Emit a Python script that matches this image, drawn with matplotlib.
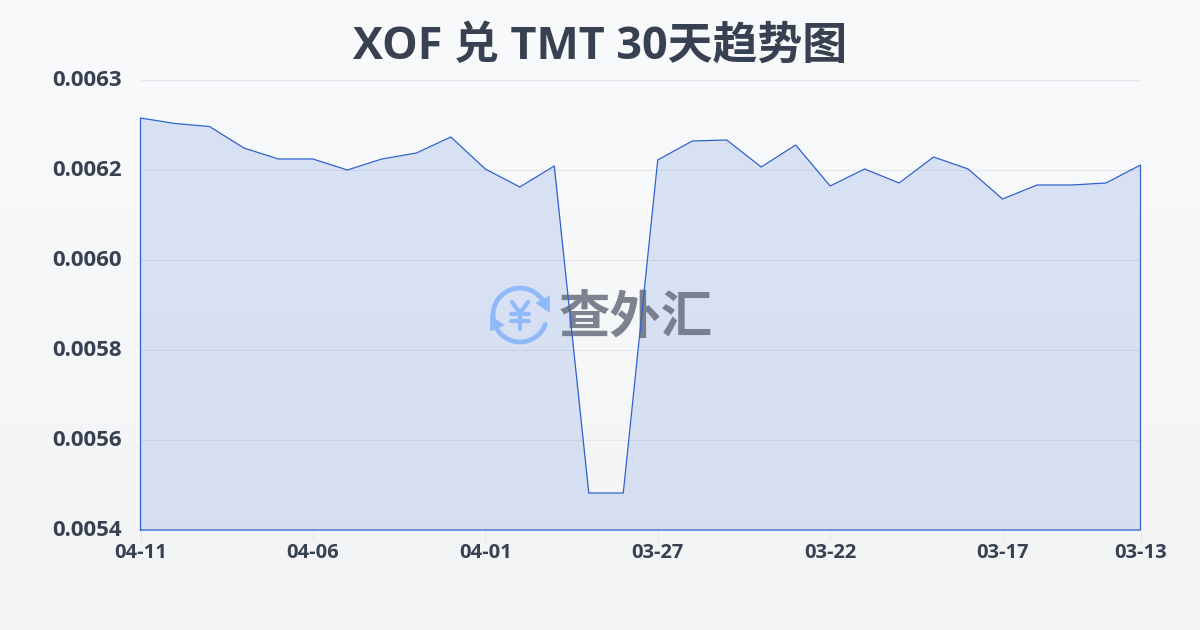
import numpy as np
import matplotlib
matplotlib.use("Agg")
import matplotlib.pyplot as plt
from matplotlib.patches import Arc, Polygon
from matplotlib.lines import Line2D
from matplotlib.transforms import Affine2D
from matplotlib.colors import LinearSegmentedColormap

plt.rcParams['font.family'] = ['Open Sans', 'Noto Sans CJK SC', 'DejaVu Sans']

title = "XOF 兑 TMT 30天趋势图"
rates = [0.006224, 0.006213, 0.006207, 0.006164, 0.006142, 0.006142, 0.006120,
         0.006142, 0.006154, 0.006186, 0.006122, 0.006086, 0.006128, 0.005474,
         0.005474, 0.006140, 0.006178, 0.006180, 0.006126, 0.006170, 0.006088,
         0.006122, 0.006094, 0.006146, 0.006122, 0.006062, 0.006090, 0.006090,
         0.006094, 0.006130]
date_labels = ["04-11", "04-06", "04-01", "03-27", "03-22", "03-17", "03-13"]
date_positions = [0, 5, 10, 15, 20, 25, 29]
y_ticks = [0.00540, 0.00558, 0.00576, 0.00594, 0.00612, 0.00630]
y_labels = ["0.0054", "0.0056", "0.0058", "0.0060", "0.0062", "0.0063"]

TXT = "#374151"
LINE = "#2f62cc"
LOGO = "#90b9f9"

fig = plt.figure(figsize=(12, 6.3), dpi=100)
bg = fig.add_axes([0, 0, 1, 1], zorder=0)
bg.axis("off")
cmap = LinearSegmentedColormap.from_list("bg", ["#f3f4f6", "#f9fafc"])
bg.imshow(np.linspace(0, 1, 256).reshape(-1, 1), aspect="auto", cmap=cmap,
          extent=(0, 1, 0, 1), origin="lower")

ax = fig.add_axes([140.5/1200, 1-530/630, 1000/1200, 450/630], zorder=1)
ax.patch.set_alpha(0)
x = np.arange(len(rates))
ax.set_xlim(0, 29)
ax.set_ylim(0.0054, 0.0063)
for s in ax.spines.values():
    s.set_visible(False)
ax.set_yticks(y_ticks, y_labels, fontsize=16, fontweight="bold", color=TXT)
ax.set_xticks(date_positions, date_labels, fontsize=14.5, fontweight="bold", color=TXT)
ax.tick_params(axis="y", length=0, pad=13.5)
ax.tick_params(axis="x", length=7, width=0.8, color="#e5e7eb", pad=2.5)
ax.grid(axis="y", color="#e3e6eb", lw=0.8)
ax.set_axisbelow(True)
up = Affine2D().translate(0, 2)
for lab in ax.get_yticklabels():
    lab.set_transform(lab.get_transform() + up)

ax.fill_between(x, rates, 0.0054, color="#3b6fd8", alpha=0.16, lw=0, zorder=3)
ax.plot(np.r_[x[0], x, x[-1], x[0]], np.r_[0.0054, rates, 0.0054, 0.0054],
        color=LINE, lw=0.9, zorder=5, solid_joinstyle="miter", clip_on=False)

fig.text(0.5, 1-47.5/630, title, ha="center", va="center", fontsize=32.3,
         fontweight="bold", color="#374151", zorder=5)

# watermark, in pixel coordinates from the top left
px = Affine2D().scale(1, -1).translate(0, 630)
kw = dict(transform=px, color=LOGO, clip_on=False, zorder=4)
for t1, t2 in ((170, 345), (20, 150)):
    ax.add_patch(Arc((520, 315), 54, 54, angle=0, theta1=t1, theta2=t2, lw=3.4,
                     edgecolor=LOGO, transform=px, clip_on=False, zorder=4, capstyle="round"))
ax.add_patch(Polygon([(549.5, 296), (549.5, 312), (536, 303)], closed=True, fc=LOGO, ec=LOGO, lw=0.5,
                     transform=px, clip_on=False, zorder=4))
ax.add_patch(Polygon([(490.5, 316), (490.5, 331), (504, 325)], closed=True, fc=LOGO, ec=LOGO, lw=0.5,
                     transform=px, clip_on=False, zorder=4))
for xs, ys in (([512, 520, 528], [302, 313, 302]), ([520, 520], [313, 329]),
               ([511, 529], [314, 314]), ([511, 529], [321, 321])):
    ax.add_line(Line2D(xs, ys, lw=3.0, solid_capstyle="round", solid_joinstyle="round", **kw))
ax.text(636, 320, "查外汇", transform=px, ha="center", va="center", fontsize=37,
        fontweight="black", color="#6b7280", alpha=0.88, zorder=4, clip_on=False)

fig.savefig("out.png", dpi=100)
